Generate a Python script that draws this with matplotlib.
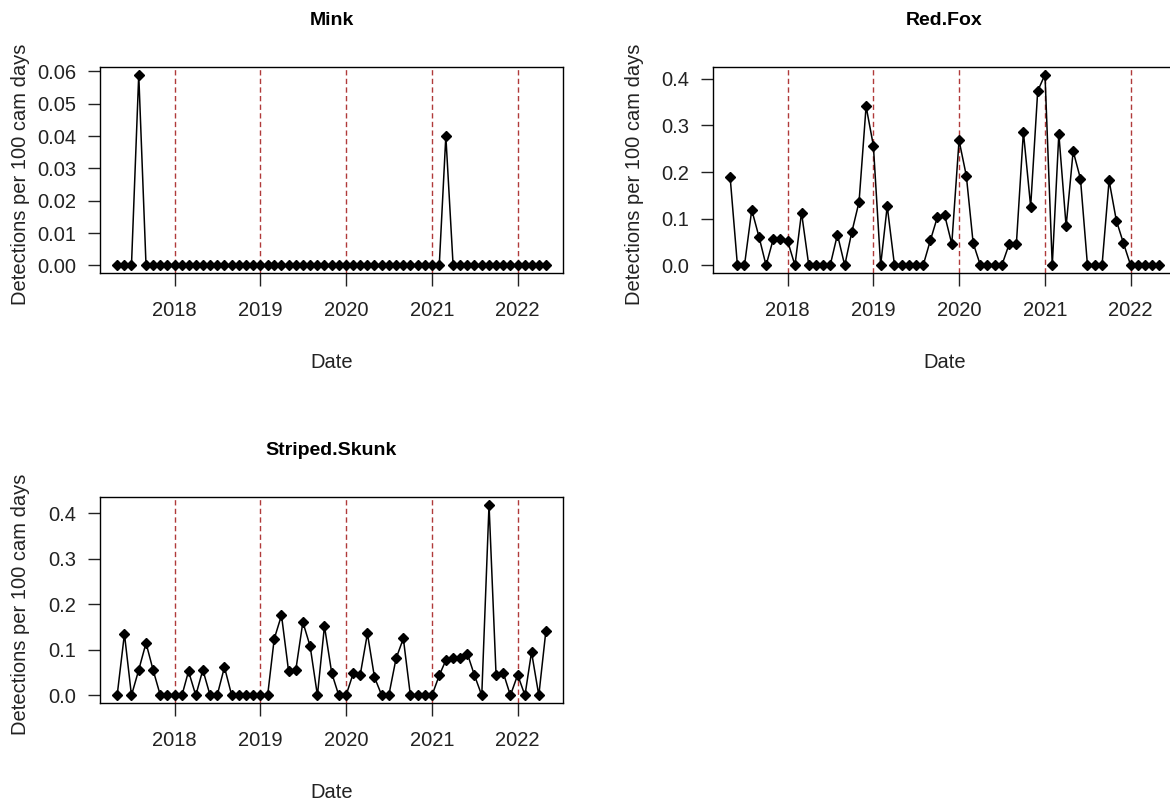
import matplotlib
matplotlib.use("Agg")
import matplotlib.pyplot as plt
import matplotlib.dates as mdates
import pandas as pd

plt.rcParams['font.family'] = ['Liberation Sans', 'DejaVu Sans']

# Monthly sampling dates (May 2017 - May 2022)
dates = pd.date_range('2017-05-01', '2022-05-01', freq='MS')

mink = [0, 0, 0, 0.059, 0, 0, 0, 0, 0, 0, 0, 0, 0, 0, 0, 0, 0, 0, 0, 0,
        0, 0, 0, 0, 0, 0, 0, 0, 0, 0, 0, 0, 0, 0, 0, 0, 0, 0, 0, 0,
        0, 0, 0, 0, 0, 0, 0.040, 0, 0, 0, 0, 0, 0, 0, 0, 0, 0, 0, 0, 0,
        0]

red_fox = [0.189, 0, 0, 0.119, 0.061, 0, 0.057, 0.057, 0.052, 0, 0.113, 0,
           0, 0, 0, 0.066, 0, 0.071, 0.136, 0.341, 0.257, 0, 0.127, 0,
           0, 0, 0, 0, 0.054, 0.104, 0.107, 0.046, 0.268, 0.192, 0.048, 0,
           0, 0, 0, 0.045, 0.045, 0.286, 0.126, 0.374, 0.409, 0, 0.282, 0.084,
           0.245, 0.186, 0, 0, 0, 0.182, 0.096, 0.048, 0, 0, 0, 0,
           0]

striped_skunk = [0, 0.135, 0, 0.056, 0.115, 0.056, 0, 0, 0, 0, 0.053, 0,
                 0.056, 0, 0, 0.062, 0, 0, 0, 0, 0, 0, 0.124, 0.176,
                 0.054, 0.056, 0.161, 0.108, 0, 0.152, 0.049, 0, 0, 0.049, 0.044, 0.136,
                 0.040, 0, 0, 0.081, 0.125, 0, 0, 0, 0, 0.044, 0.077, 0.081,
                 0.081, 0.091, 0.044, 0, 0.419, 0.044, 0.049, 0, 0.045, 0, 0.095, 0,
                 0.141]

year_lines = pd.to_datetime(['2018-01-01', '2019-01-01', '2020-01-01', '2021-01-01', '2022-01-01'])

W, H = 1170, 801
fig = plt.figure(figsize=(W / 100, H / 100), dpi=100)

# axes boxes in pixels: left, top
panels = [
    ('Mink', mink, 100, 67, [0, 0.01, 0.02, 0.03, 0.04, 0.05, 0.06], '%.2f'),
    ('Red.Fox', red_fox, 713, 67, [0, 0.1, 0.2, 0.3, 0.4], '%.1f'),
    ('Striped.Skunk', striped_skunk, 100, 497, [0, 0.1, 0.2, 0.3, 0.4], '%.1f'),
]
aw, ah = 463, 206

x0 = mdates.date2num(dates[0])
x1 = mdates.date2num(dates[-1])
xpad = 0.04 * (x1 - x0)

for title, vals, left, top, yticks, fmt in panels:
    ax = fig.add_axes([left / W, (H - top - ah) / H, aw / W, ah / H])
    ax.plot(dates, vals, color='black', lw=1.1, marker='D', ms=5.5, zorder=3)
    for d in year_lines:
        ax.axvline(d, color='#b03a3a', lw=1, dashes=(3.8, 2.4), zorder=2)
    ymax = max(vals)
    ax.set_ylim(-0.04 * ymax, ymax * 1.04)
    ax.set_xlim(x0 - xpad, x1 + xpad)
    ax.set_yticks(yticks)
    ax.set_yticklabels([fmt % v for v in yticks])
    ax.set_xticks(year_lines)
    ax.xaxis.set_major_formatter(mdates.DateFormatter('%Y'))
    ax.tick_params(direction='out', length=9, width=1, labelsize=14.5, colors='#222222')
    ax.tick_params(axis='y', pad=8)
    ax.tick_params(axis='x', pad=11)
    for s in ax.spines.values():
        s.set_linewidth(1)
    ax.set_title(title, fontsize=14, fontweight='bold', pad=30)
    ax.set_xlabel('Date', fontsize=14.5, labelpad=24, color='#222222')
    ax.set_ylabel('Detections per 100 cam days', fontsize=14.5, color='#222222', va='center')
    ax.yaxis.set_label_coords(-79 / aw, 0.48)

fig.savefig('out.png', dpi=100)
